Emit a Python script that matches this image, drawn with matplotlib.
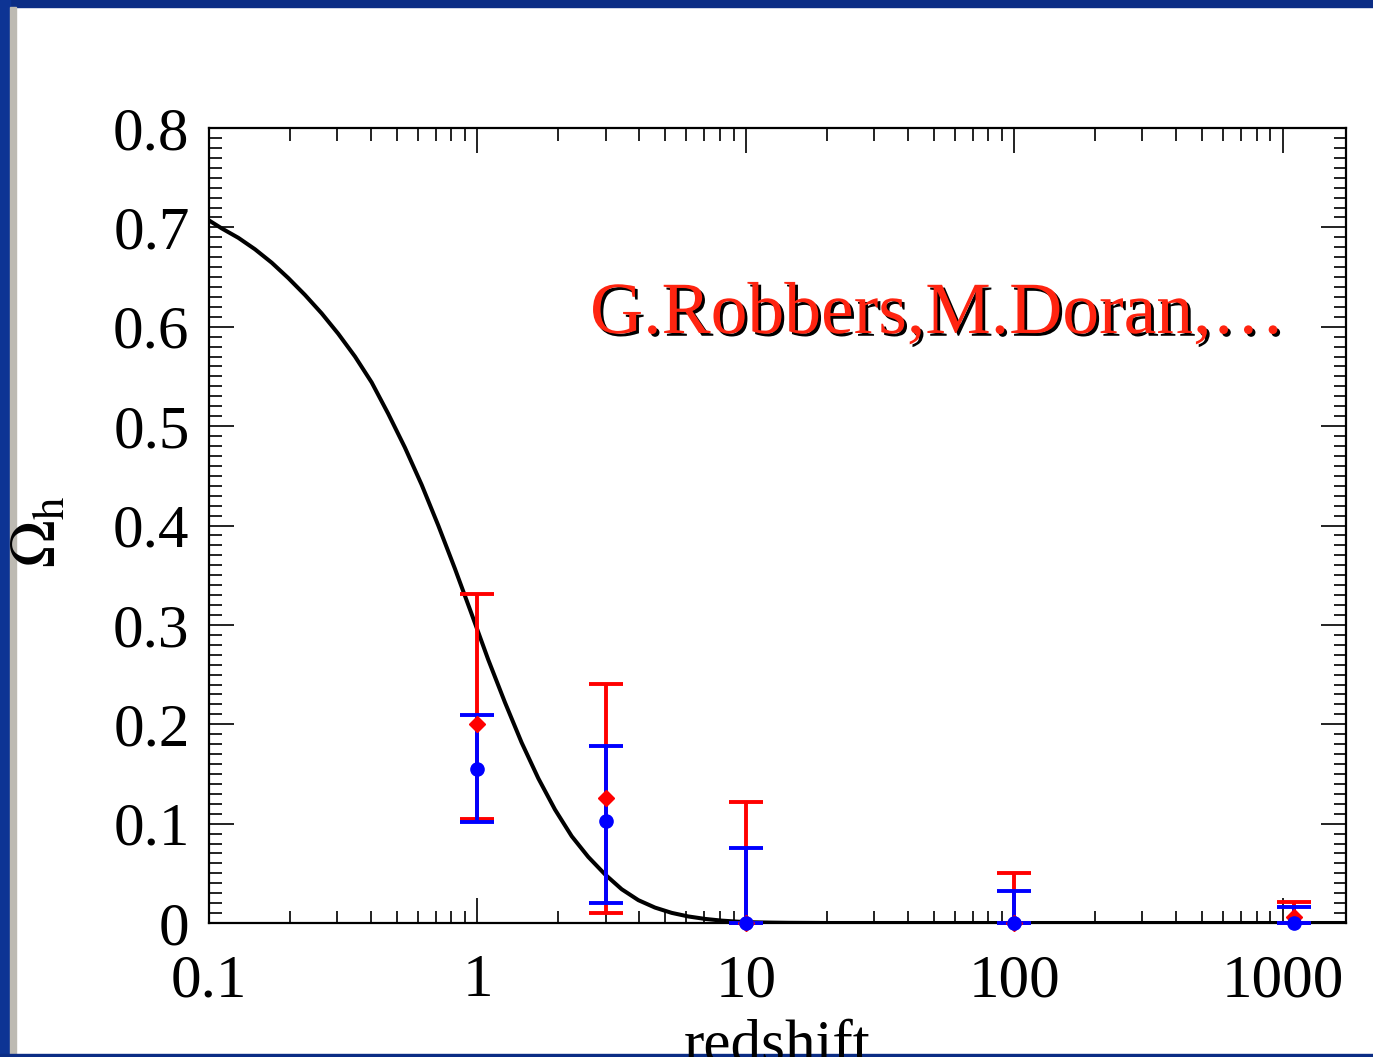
import numpy as np
import matplotlib
matplotlib.use("Agg")
import matplotlib.pyplot as plt
from matplotlib.patches import Rectangle
from matplotlib.ticker import MultipleLocator, LogLocator, FixedLocator, FixedFormatter, NullFormatter
import matplotlib.patheffects as pe

plt.rcParams['font.family'] = ['Liberation Serif', 'DejaVu Serif']
plt.rcParams['mathtext.fontset'] = 'stix'

# curve
z_curve = [0.1, 0.1115, 0.1286, 0.1483, 0.1712, 0.1974, 0.2278, 0.2628, 0.3029,
           0.3499, 0.4036, 0.4651, 0.5367, 0.6197, 0.7147, 0.8245, 0.9512, 1.097,
           1.266, 1.461, 1.686, 1.945, 2.245, 2.587, 2.985, 3.445, 3.975, 4.587,
           5.29, 6.1, 7.05, 8.13, 9.38, 10.8, 12.5, 14.4, 20, 1720]
om_curve = [0.707, 0.699, 0.6895, 0.678, 0.6645, 0.649, 0.632, 0.6135, 0.593,
            0.570, 0.544, 0.5125, 0.4785, 0.441, 0.400, 0.3565, 0.311, 0.265,
            0.222, 0.1815, 0.1455, 0.1141, 0.0873, 0.0665, 0.049, 0.034, 0.023,
            0.0155, 0.0102, 0.0066, 0.0041, 0.0024, 0.0013, 0.0007, 0.0004, 0.0002,
            0.0, 0.0]

# data points (redshift bins)
z_pts = [1, 3, 10, 100, 1100]
red_val = [0.200, 0.126, 0.0, 0.0, 0.006]
red_hi = [0.331, 0.241, 0.122, 0.050, 0.021]
red_lo = [0.105, 0.0104, 0.0, 0.0, 0.0]
blue_val = [0.155, 0.103, 0.0, 0.0, 0.0]
blue_hi = [0.209, 0.178, 0.0755, 0.032, 0.016]
blue_lo = [0.102, 0.020, 0.0, 0.0, 0.0]

xticks = [0.1, 1, 10, 100, 1000]
xticklabels = ['0.1', '1', '10', '100', '1000']
yticks = [0, 0.1, 0.2, 0.3, 0.4, 0.5, 0.6, 0.7, 0.8]
yticklabels = ['0', '0.1', '0.2', '0.3', '0.4', '0.5', '0.6', '0.7', '0.8']

fig = plt.figure(figsize=(13.73, 10.57), dpi=100)
fig.patch.set_facecolor('white')

# slide frame
fig.patches.append(Rectangle((0, 1 - 7 / 1057), 1, 7 / 1057, transform=fig.transFigure,
                             color='#0b2d85', zorder=0))
fig.patches.append(Rectangle((0, 0), 10 / 1373, 1, transform=fig.transFigure,
                             color='#0d3494', zorder=0))
fig.patches.append(Rectangle((10 / 1373, 0), 6 / 1373, 1 - 7 / 1057, transform=fig.transFigure,
                             color='#bdbab2', zorder=0))
fig.patches.append(Rectangle((0, 0), 1, 3 / 1057, transform=fig.transFigure,
                             color='#0b2d85', zorder=0))

ax = fig.add_axes([209 / 1373, 134 / 1057, 1137 / 1373, 795 / 1057])

ax.plot(z_curve, om_curve, color='black', lw=2.9, zorder=2, solid_joinstyle='round')

def draw_set(val, hi, lo, color, marker, ms):
    v = np.array(val)
    yerr = [v - np.array(lo), np.array(hi) - v]
    _, caps, bars = ax.errorbar(z_pts, val, yerr=yerr, fmt=marker, color=color, ms=ms,
                                ecolor=color, elinewidth=2.8, capsize=12, capthick=2.8,
                                zorder=3, clip_on=False)
    for c in caps:
        c.set_clip_on(False)
    for b in bars:
        b.set_clip_on(False)

draw_set(red_val, red_hi, red_lo, '#ff0000', 'D', 8)
draw_set(blue_val, blue_hi, blue_lo, '#0000ff', 'o', 9.5)

ax.set_xscale('log')
ax.set_xlim(0.1, 1720)
ax.set_ylim(0, 0.8)

ax.xaxis.set_major_locator(FixedLocator(xticks))
ax.xaxis.set_major_formatter(FixedFormatter(xticklabels))
ax.xaxis.set_minor_locator(LogLocator(base=10, subs=np.arange(2, 10), numticks=20))
ax.xaxis.set_minor_formatter(NullFormatter())
ax.yaxis.set_major_locator(FixedLocator(yticks))
ax.yaxis.set_major_formatter(FixedFormatter(yticklabels))
ax.yaxis.set_minor_locator(MultipleLocator(0.01))

ax.tick_params(which='both', direction='in', top=True, right=True, width=1.4, color='#222222')
ax.tick_params(which='major', length=18, labelsize=44)
ax.tick_params(which='minor', length=9)
ax.tick_params(axis='x', which='major', pad=22)
ax.tick_params(axis='y', which='major', pad=14)
for s in ax.spines.values():
    s.set_linewidth(1.6)

# axis titles (the slide cuts "redshift" at its bottom edge)
fig.text(777.5 / 1373, -4 / 1057, 'redshift', ha='center', va='baseline', fontsize=44)
fig.text(42 / 1373, 525 / 1057, r'$\Omega_{\rm h}$', rotation=90, ha='center', va='center',
         fontsize=46)

fig.text(590 / 1373, (1057 - 333) / 1057, 'G.Robbers,M.Doran,…', color='#ff2410',
         fontsize=53, ha='left', va='baseline',
         path_effects=[pe.withSimplePatchShadow(offset=(2, -2), shadow_rgbFace='black',
                                                alpha=1.0)])

fig.savefig('out.png', dpi=100, facecolor='white')
